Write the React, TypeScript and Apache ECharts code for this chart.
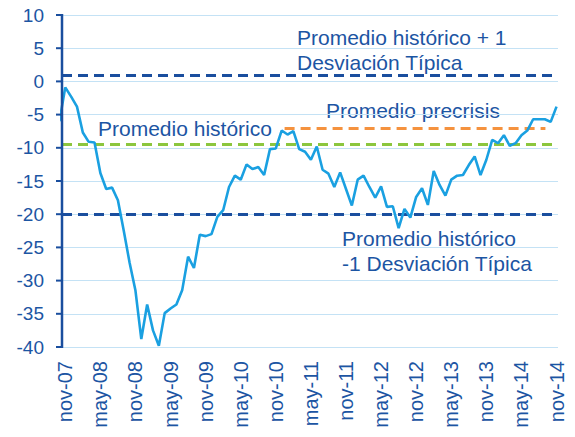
import React, { useEffect, useRef } from "react";
import * as echarts from "echarts";

// Monthly confidence indicator, oct-07 (clipped at the axis) to nov-14
const seriesValues = [
  -6.0, // oct-07
  -0.9, -2.3, -3.8, -7.7, -9.1, -9.2, -13.8, -16.2, -16.0, -17.9, -22.5, -27.3, // nov-07 .. oct-08
  -31.5, -38.8, -33.6, -37.5, -39.8, -34.9, -34.2, -33.6, -31.4, -26.4, -28.1, -23.1, // nov-08 .. oct-09
  -23.3, -23.0, -20.4, -19.4, -15.9, -14.2, -14.8, -12.5, -13.2, -12.9, -14.1, -10.2, // nov-09 .. oct-10
  -10.1, -7.4, -8.0, -7.5, -10.2, -10.6, -11.8, -9.8, -13.3, -13.9, -15.9, -13.7, // nov-10 .. oct-11
  -16.2, -18.7, -14.8, -14.2, -15.9, -17.5, -15.8, -18.9, -18.8, -22.1, -19.2, -20.5, // nov-11 .. oct-12
  -17.4, -16.1, -18.6, -13.5, -15.6, -17.2, -14.8, -14.2, -14.1, -12.6, -11.3, -14.1, // nov-12 .. oct-13
  -11.8, -8.8, -9.3, -8.1, -9.7, -9.3, -8.1, -7.4, -5.7, -5.7, -5.7, -6.1, // nov-13 .. oct-14
  -3.8, // nov-14
];
const firstMonth = -1; // first value is oct-07 (months counted from nov-07)

const tickLabels = [
  "nov-07", "may-08", "nov-08", "may-09", "nov-09", "may-10", "nov-10", "may-11",
  "nov-11", "may-12", "nov-12", "may-13", "nov-13", "may-14", "nov-14",
];
const tickStep = 6;

const yTicks = { min: -40, max: 10, interval: 5 };
const yTickValues = [-40, -35, -30, -25, -20, -15, -10, -5, 0, 5, 10];

const upperBand = 1.0; // Promedio histórico + 1 desviación típica
const historicAvg = -9.4; // Promedio histórico
const lowerBand = -20.0; // Promedio histórico - 1 desviación típica
const precrisisAvg = -7.1; // Promedio precrisis
const precrisisSpan = [37.5, 82.1]; // months from nov-07

const labelBlue = "#1C55A3";
const axisBlue = "#1A4E9E";
const gridBlue = "#C4E2F5";
const FONT = '"Liberation Sans", Arial, sans-serif';

// plot area
const PLOT_LEFT = 62;
const PLOT_RIGHT = 17;
const PLOT_TOP = 15;
const PLOT_BOTTOM = 90;
const AXIS_START_MONTH = -0.56; // the y axis crosses half a month before nov-07
const AXIS_END_MONTH = 84.25;
const TICK_LEN = 6;

export default function App() {
  const ref = useRef<HTMLDivElement>(null);

  useEffect(() => {
    if (!ref.current) return;
    const chart = echarts.init(ref.current, undefined, { renderer: "svg" });
    const toX = (month: number) => month - AXIS_START_MONTH;
    const xMax = toX(AXIS_END_MONTH);
    const lineData = seriesValues.map((v, i) => [toX(i + firstMonth), v]);
    const plotWidth = 575 - PLOT_LEFT - PLOT_RIGHT;
    const labelGridLeft = PLOT_LEFT + (toX(0) / xMax) * plotWidth;

    chart.setOption({
      animation: false,
      textStyle: { fontFamily: FONT },
      grid: [
        { left: PLOT_LEFT, right: PLOT_RIGHT, top: PLOT_TOP, bottom: PLOT_BOTTOM },
        { left: labelGridLeft, right: PLOT_RIGHT, top: PLOT_TOP, bottom: PLOT_BOTTOM },
      ],
      xAxis: [
        {
          type: "value",
          gridIndex: 0,
          min: 0,
          max: xMax,
          axisLine: { show: false },
          axisTick: { show: false },
          axisLabel: { show: false },
          splitLine: { show: false },
        },
        {
          type: "value",
          gridIndex: 1,
          min: 0,
          max: AXIS_END_MONTH,
          interval: tickStep,
          axisLine: { show: false },
          axisTick: { show: false },
          splitLine: { show: false },
          axisLabel: {
            formatter: (v: number) => {
              const k = v / tickStep;
              return Number.isInteger(k) ? tickLabels[k] ?? "" : "";
            },
            showMaxLabel: false,
            rotate: 90,
            margin: 14,
            color: labelBlue,
            fontSize: 20,
            fontFamily: FONT,
          },
        },
      ],
      yAxis: [
        {
          type: "value",
          gridIndex: 0,
          min: yTicks.min,
          max: yTicks.max,
          interval: yTicks.interval,
          axisLine: { show: false },
          axisTick: { show: false },
          axisLabel: { show: true, color: labelBlue, fontSize: 19, margin: 18, fontFamily: FONT },
          splitLine: { show: true, lineStyle: { color: gridBlue, width: 1 } },
        },
        {
          type: "value",
          gridIndex: 1,
          show: false,
          min: 1,
          max: 2,
        },
      ],
      series: [
        {
          type: "line",
          name: "Promedio precrisis",
          xAxisIndex: 0,
          yAxisIndex: 0,
          data: precrisisSpan.map((m) => [toX(m), precrisisAvg]),
          symbol: "none",
          lineStyle: { color: "#F5923E", width: 3, type: [10, 6] },
          z: 2,
        },
        {
          type: "line",
          name: "Indicador",
          xAxisIndex: 0,
          yAxisIndex: 0,
          data: lineData,
          symbol: "none",
          clip: true,
          lineStyle: { color: "#1AA0E1", width: 2.6 },
          z: 4,
          markLine: {
            silent: true,
            symbol: "none",
            label: { show: false },
            z: 3,
            data: [
              { yAxis: upperBand, lineStyle: { color: axisBlue, width: 3, type: [10, 6] } },
              { yAxis: historicAvg, lineStyle: { color: "#8CC63E", width: 3, type: [10, 6] } },
              { yAxis: lowerBand, lineStyle: { color: axisBlue, width: 3, type: [10, 6] } },
            ],
          },
        },
        {
          // the vertical value axis and its outward ticks, placed through the axis scales
          type: "custom",
          name: "Eje",
          xAxisIndex: 0,
          yAxisIndex: 0,
          silent: true,
          clip: false,
          z: 6,
          data: yTickValues.map((v) => [0, v]),
          renderItem: (params: any, api: any) => {
            const p = api.coord([api.value(0), api.value(1)]);
            const children: any[] = [
              {
                type: "line",
                shape: { x1: p[0] - TICK_LEN, y1: p[1], x2: p[0], y2: p[1] },
                style: { stroke: axisBlue, lineWidth: 2 },
              },
            ];
            if (params.dataIndex === 0) {
              const bottom = api.coord([0, yTicks.min]);
              const top = api.coord([0, yTicks.max]);
              children.push({
                type: "line",
                shape: { x1: bottom[0], y1: bottom[1] + 1, x2: top[0], y2: top[1] - 1 },
                style: { stroke: axisBlue, lineWidth: 2.5 },
              });
            }
            return { type: "group", children };
          },
        },
      ],
      graphic: [
        {
          type: "text",
          x: 297,
          y: 24.5,
          style: {
            text: "Promedio histórico + 1\nDesviación Típica",
            font: `21px ${FONT}`,
            fill: labelBlue,
            lineHeight: 25,
            verticalAlign: "top",
          },
        },
        {
          type: "text",
          x: 326,
          y: 110,
          style: { text: "Promedio precrisis", font: `21px ${FONT}`, fill: labelBlue, verticalAlign: "middle" },
        },
        {
          type: "text",
          x: 98,
          y: 128,
          style: { text: "Promedio histórico", font: `21px ${FONT}`, fill: labelBlue, verticalAlign: "middle" },
        },
        {
          type: "text",
          x: 342,
          y: 226,
          style: {
            text: "Promedio histórico\n-1 Desviación Típica",
            font: `21px ${FONT}`,
            fill: labelBlue,
            lineHeight: 25,
            verticalAlign: "top",
          },
        },
      ],
    });
    return () => chart.dispose();
  }, []);

  return <div ref={ref} style={{ width: 575, height: 437, position: "absolute", left: 0, top: 0 }} />;
}
